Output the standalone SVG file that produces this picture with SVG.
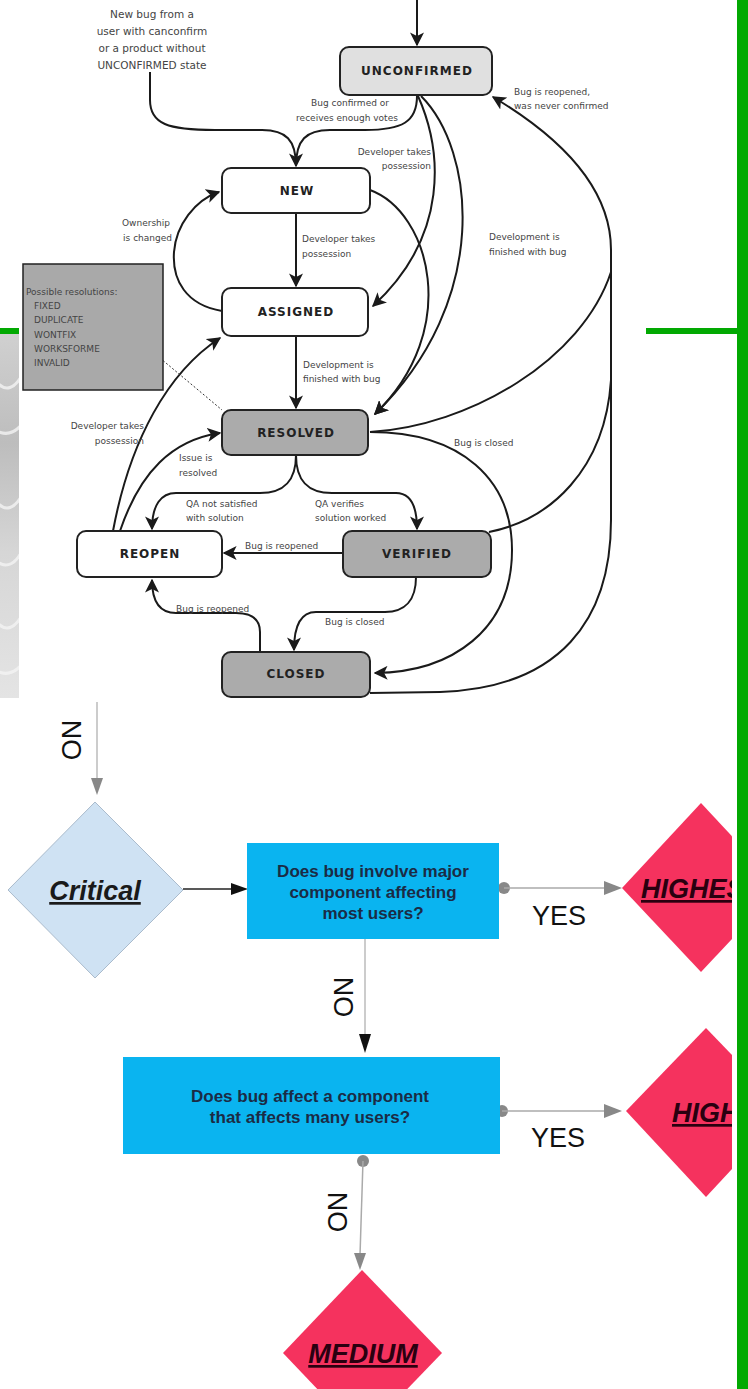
<svg xmlns="http://www.w3.org/2000/svg" width="748" height="1389" viewBox="0 0 748 1389">
<style>
.st{fill:#fff;stroke:#222;stroke-width:2}
.st.lg{fill:#e0e0e0}
.st.dg{fill:#ababab}
.sn{font-family:"DejaVu Sans",sans-serif;font-weight:bold;font-size:12px;letter-spacing:1px;fill:#222;text-anchor:middle}
.lb{font-family:"DejaVu Sans",sans-serif;font-size:9px;fill:#444}
.lb2{font-family:"DejaVu Sans",sans-serif;font-size:10.5px;fill:#444;text-anchor:middle}
.ed{fill:none;stroke:#1a1a1a;stroke-width:2}
.q{fill:#0ab4f0}
.qt{font-family:"Liberation Sans",Arial,sans-serif;font-weight:bold;font-size:17px;fill:#1b2b45;text-anchor:middle}
.dt{font-family:"Liberation Sans",Arial,sans-serif;font-weight:bold;font-style:italic;font-size:27px;text-decoration:underline}
.yn{font-family:"Liberation Sans",Arial,sans-serif;font-size:27px;fill:#111;text-anchor:middle}
.gl{stroke:#aaa;stroke-width:1.5;fill:none}
.pink{fill:#f5325e}
.streak{fill:none;stroke:#f4f4f4;stroke-width:3;opacity:0.8}
</style>
<defs>
<marker id="ah" viewBox="0 0 10 10" refX="9" refY="5" markerWidth="7" markerHeight="7" markerUnits="strokeWidth" orient="auto">
<path d="M0,0 L10,5 L0,10 L2.5,5 z" fill="#1a1a1a"/>
</marker>
<linearGradient id="gs" x1="0" y1="0" x2="0" y2="1">
<stop offset="0" stop-color="#d0d0d0"/>
<stop offset="0.3" stop-color="#bdbdbd"/>
<stop offset="0.6" stop-color="#d6d6d6"/>
<stop offset="1" stop-color="#e4e4e4"/>
</linearGradient>
<clipPath id="cr"><rect x="0" y="0" width="732" height="1389"/></clipPath>
<clipPath id="cs"><rect x="0" y="334" width="19" height="364"/></clipPath>
</defs>
<rect width="748" height="1389" fill="#fff"/>
<!-- left textured strip -->
<g clip-path="url(#cs)">
<rect x="0" y="334" width="19" height="364" fill="url(#gs)"/>
<path class="streak" d="M-5 380 Q10 400 25 370"/>
<path class="streak" d="M-5 430 Q12 440 25 420"/>
<path class="streak" d="M-5 500 Q10 520 25 490"/>
<path class="streak" d="M-5 560 Q12 575 25 545"/>
<path class="streak" d="M-5 620 Q10 640 25 610"/>
<path class="streak" d="M-5 670 Q12 680 25 660"/>
</g>
<!-- green frame lines -->
<rect x="0" y="328" width="19" height="6" fill="#02a902"/>
<rect x="646" y="328" width="91" height="6" fill="#02a902"/>

<!-- state diagram connectors -->
<g id="connectors">
<path class="ed" d="M417 0 L417 45" marker-end="url(#ah)"/>
<path class="ed" d="M150 72 L150 100 C150 124 168 130 215 130 L262 130 C286 130 296 140 296 166" marker-end="url(#ah)"/>
<path class="ed" d="M417 96 C417 122 402 130 365 130 L330 130 C306 130 296 140 296 166"/>
<path class="ed" d="M418 96 C442 150 450 235 373 306" marker-end="url(#ah)"/>
<path class="ed" d="M370 190 C430 212 462 330 375 414" marker-end="url(#ah)"/>
<path class="ed" d="M421 96 C475 150 492 300 375 414" marker-end="url(#ah)"/>
<path class="ed" d="M370 693 L440 692 C560 688 611 620 611 520 L611 250 C611 190 565 140 493 97" marker-end="url(#ah)"/>
<path class="ed" d="M370 432 C470 426 582 360 611 272"/>
<path class="ed" d="M489 532 C550 520 605 470 611 380"/>
<path class="ed" d="M370 432 C462 432 512 480 512 550 C512 630 452 672 375 673" marker-end="url(#ah)"/>
<path class="ed" d="M222 311 C186 305 172 280 174 252 C176 225 195 200 219 192" marker-end="url(#ah)"/>
<path class="ed" d="M296 213 L296 286" marker-end="url(#ah)"/>
<path class="ed" d="M296 336 L296 408" marker-end="url(#ah)"/>
<path class="ed" d="M113 531 C130 440 168 372 220 338" marker-end="url(#ah)"/>
<path class="ed" d="M120 531 C140 472 172 440 220 433" marker-end="url(#ah)"/>
<path class="ed" d="M296 455 C296 480 285 493 260 493 L176 493 C161 493 152 505 152 529" marker-end="url(#ah)"/>
<path class="ed" d="M296 455 C296 480 307 493 332 493 L396 493 C410 493 417 505 417 529" marker-end="url(#ah)"/>
<path class="ed" d="M343 553 L224 553" marker-end="url(#ah)"/>
<path class="ed" d="M416 577 C416 600 405 612 385 612 L316 612 C301 612 294 625 294 650" marker-end="url(#ah)"/>
<path class="ed" d="M260 652 L260 632 C260 619 251 613 236 613 L176 613 C160 613 152 602 152 580" marker-end="url(#ah)"/>
<path d="M160 358 L222 410" fill="none" stroke="#333" stroke-width="1" stroke-dasharray="2 2"/>
</g>

<!-- edge labels -->
<g id="labels">
<text class="lb2"><tspan x="152" y="18">New bug from a</tspan><tspan x="152" y="35">user with canconfirm</tspan><tspan x="152" y="52">or a product without</tspan><tspan x="152" y="69">UNCONFIRMED state</tspan></text>
<text class="lb" text-anchor="middle"><tspan x="350" y="106">Bug confirmed or</tspan><tspan x="347" y="121">receives enough votes</tspan></text>
<text class="lb" text-anchor="end"><tspan x="431" y="155">Developer takes</tspan><tspan x="431" y="169">possession</tspan></text>
<text class="lb"><tspan x="514" y="95">Bug is reopened,</tspan><tspan x="514" y="109">was never confirmed</tspan></text>
<text class="lb" text-anchor="end"><tspan x="170" y="226">Ownership</tspan><tspan x="172" y="241">is changed</tspan></text>
<text class="lb"><tspan x="302" y="242">Developer takes</tspan><tspan x="302" y="257">possession</tspan></text>
<text class="lb"><tspan x="489" y="240">Development is</tspan><tspan x="489" y="255">finished with bug</tspan></text>
<text class="lb"><tspan x="303" y="368">Development is</tspan><tspan x="303" y="382">finished with bug</tspan></text>
<text class="lb" text-anchor="end"><tspan x="144" y="429">Developer takes</tspan><tspan x="144" y="444">possession</tspan></text>
<text class="lb"><tspan x="179" y="461">Issue is</tspan><tspan x="179" y="476">resolved</tspan></text>
<text class="lb" x="454" y="446">Bug is closed</text>
<text class="lb"><tspan x="186" y="507">QA not satisfied</tspan><tspan x="186" y="521">with solution</tspan></text>
<text class="lb"><tspan x="315" y="507">QA verifies</tspan><tspan x="315" y="521">solution worked</tspan></text>
<text class="lb" x="245" y="549">Bug is reopened</text>
<text class="lb" x="176" y="612">Bug is reopened</text>
<text class="lb" x="325" y="625">Bug is closed</text>
</g>

<!-- state nodes -->
<g id="unconfirmed"><rect class="st lg" x="340" y="47" width="152" height="48" rx="9"/><text class="sn" x="417" y="75">UNCONFIRMED</text></g>
<g id="new"><rect class="st" x="222" y="168" width="148" height="45" rx="9"/><text class="sn" x="297" y="195">NEW</text></g>
<g id="assigned"><rect class="st" x="222" y="288" width="146" height="48" rx="9"/><text class="sn" x="296" y="316">ASSIGNED</text></g>
<g id="resolved"><rect class="st dg" x="222" y="410" width="146" height="45" rx="9"/><text class="sn" x="296" y="437">RESOLVED</text></g>
<g id="reopen"><rect class="st" x="77" y="531" width="145" height="46" rx="9"/><text class="sn" x="150" y="558">REOPEN</text></g>
<g id="verified"><rect class="st dg" x="343" y="531" width="148" height="46" rx="9"/><text class="sn" x="417" y="558">VERIFIED</text></g>
<g id="closed"><rect class="st dg" x="222" y="652" width="148" height="45" rx="9"/><text class="sn" x="296" y="678">CLOSED</text></g>
<g id="resolutions"><rect x="23" y="264" width="140" height="126" fill="#a9a9a9" stroke="#222" stroke-width="1.5"/>
<text class="lb" fill="#333"><tspan x="26" y="295">Possible resolutions:</tspan><tspan x="34" y="309">FIXED</tspan><tspan x="34" y="323">DUPLICATE</tspan><tspan x="34" y="338">WONTFIX</tspan><tspan x="34" y="352">WORKSFORME</tspan><tspan x="34" y="366">INVALID</tspan></text></g>

<!-- flowchart -->
<g id="flow-connectors">
<line x1="97" y1="702" x2="97" y2="780" stroke="#999" stroke-width="1"/>
<polygon points="91,778 103,778 97,795" fill="#888"/>
<line x1="183" y1="889" x2="233" y2="889" stroke="#222" stroke-width="1.5"/>
<polygon points="231,883 248,889 231,895" fill="#111"/>
<circle cx="504" cy="888" r="6" fill="#888"/>
<line class="gl" x1="504" y1="888" x2="606" y2="888"/>
<polygon points="604,881 622,888 604,895" fill="#888"/>
<line x1="365" y1="939" x2="365" y2="1036" stroke="#999" stroke-width="1"/>
<polygon points="359,1034 371,1034 365,1053" fill="#111"/>
<circle cx="502" cy="1111" r="6" fill="#888"/>
<line class="gl" x1="502" y1="1111" x2="606" y2="1111"/>
<polygon points="604,1104 622,1111 604,1118" fill="#888"/>
<circle cx="363" cy="1161" r="6" fill="#888"/>
<line class="gl" x1="363" y1="1161" x2="360" y2="1255"/>
<polygon points="354,1253 366,1253 360,1270" fill="#888"/>
<text class="yn" transform="translate(62,740) rotate(90)" x="0" y="0">NO</text>
<text class="yn" transform="translate(334,997) rotate(90)" x="0" y="0">NO</text>
<text class="yn" transform="translate(328,1212) rotate(90)" x="0" y="0">NO</text>
<text class="yn" x="559" y="925">YES</text>
<text class="yn" x="558" y="1147">YES</text>
</g>
<g id="critical"><polygon points="95,802 183,890 95,978 8,890" fill="#cfe2f3" stroke="#aabbcc" stroke-width="1"/><text class="dt" x="95" y="900" text-anchor="middle" fill="#1a1a1a">Critical</text></g>
<g id="q1"><rect class="q" x="247" y="843" width="252" height="96"/><text class="qt"><tspan x="373" y="877">Does bug involve major</tspan><tspan x="373" y="898">component affecting</tspan><tspan x="373" y="919">most users?</tspan></text></g>
<g id="q2"><rect class="q" x="123" y="1057" width="377" height="97"/><text class="qt"><tspan x="310" y="1102">Does bug affect a component</tspan><tspan x="310" y="1123">that affects many users?</tspan></text></g>
<g clip-path="url(#cr)">
<g id="highest"><polygon class="pink" points="701,803 780,888 701,972 622,888"/><text class="dt" x="641" y="898" fill="#2a0010">HIGHEST</text></g>
<g id="high"><polygon class="pink" points="706,1028 786,1111 706,1197 626,1111"/><text class="dt" x="672" y="1122" fill="#2a0010">HIGH</text></g>
</g>
<g id="medium"><polygon class="pink" points="362,1270 442,1353 362,1436 283,1353"/><text class="dt" x="363" y="1363" text-anchor="middle" fill="#2a0010">MEDIUM</text></g>

<rect x="737" y="0" width="11" height="1389" fill="#02a902"/>
</svg>
